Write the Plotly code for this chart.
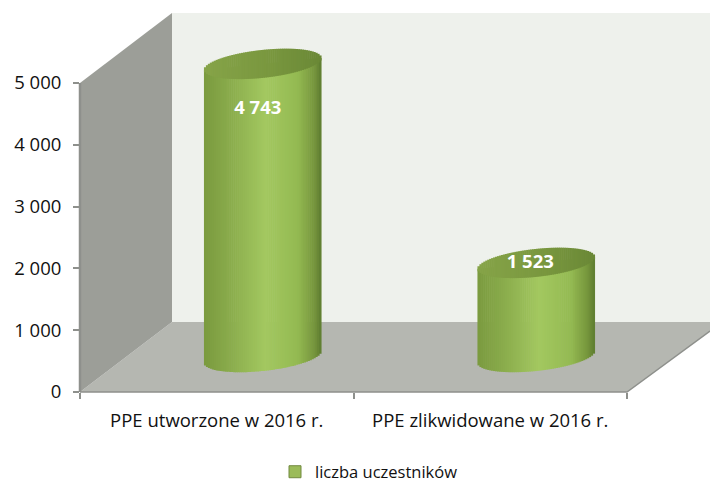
import math
import plotly.graph_objects as go

CATEGORIES = ["PPE utworzone w 2016 r.", "PPE zlikwidowane w 2016 r."]
VALUES = [4743, 1523]
Y_TICKS = [0, 1000, 2000, 3000, 4000, 5000]
SERIES_NAME = "liczba uczestników"

W, H = 710, 482
L, R, T, B = 80, 627, 13, 392
DX, DY = 92, 70            # depth of the 3-D box in pixels
PX_PER_UNIT_Y = 61.8 / 1000
PX_PER_CAT = (R - L) / 2
Y_MAX = (B - T) / PX_PER_UNIT_Y

CYL_SHIFT_X, CYL_LIFT_PX = 46, 35
CYL_HALF_W, CYL_HALF_H, CYL_TILT = 58.5, 14, 6
N = 60


def lerp(stops, t):
    for (a, ca), (b, cb) in zip(stops, stops[1:]):
        if t <= b:
            f = (t - a) / (b - a)
            return "rgb(%d,%d,%d)" % tuple(round(x + (y - x) * f) for x, y in zip(ca, cb))
    return "rgb(%d,%d,%d)" % stops[-1][1]


BODY = [(-1, (122, 154, 62)), (-0.55, (138, 172, 76)), (0.05, (163, 200, 96)),
        (0.6, (148, 186, 82)), (0.88, (118, 150, 60)), (1, (94, 124, 48))]
TOP = [(-1, (134, 164, 72)), (0.2, (120, 150, 62)), (1, (106, 136, 54))]

body = dict(x=[], base=[], y=[], w=[], o=[], c=[])
top = dict(x=[], base=[], y=[], w=[], o=[], c=[])
lift = CYL_LIFT_PX / PX_PER_UNIT_Y
strip_px = 2 * CYL_HALF_W / N
for idx, v in enumerate(VALUES):
    for i in range(N):
        u = -1 + (i + 0.5) * 2 / N
        chord = CYL_HALF_H * math.sqrt(1 - u * u) / PX_PER_UNIT_Y
        tilt = CYL_TILT * u / PX_PER_UNIT_Y
        width = (strip_px + 0.6) / PX_PER_CAT
        offs = (CYL_SHIFT_X + CYL_HALF_W * u - strip_px / 2 - 0.3) / PX_PER_CAT
        body["x"].append(idx); top["x"].append(idx)
        body["base"].append(lift + tilt - chord)
        body["y"].append(v + chord)
        top["base"].append(lift + v + tilt - chord)
        top["y"].append(2 * chord)
        for d, stops in ((body, BODY), (top, TOP)):
            d["w"].append(width); d["o"].append(offs); d["c"].append(lerp(stops, u))

fig = go.Figure()
for d in (body, top):
    fig.add_bar(x=d["x"], y=d["y"], base=d["base"], width=d["w"], offset=d["o"],
                marker=dict(color=d["c"], line=dict(width=0)),
                showlegend=False, hoverinfo="skip")

fig.add_bar(x=[0], y=[None], name=SERIES_NAME, showlegend=True, hoverinfo="skip",
            marker=dict(color="#9bbb59", line=dict(color="#71893f", width=1)))

fig.add_scatter(x=[i + s / PX_PER_CAT for i, s in enumerate((41, 40))],
                y=[VALUES[0] - 744 + lift, VALUES[1] + lift],
                mode="text", text=[f"{v:,}".replace(",", " ") for v in VALUES],
                textfont=dict(family="Open Sans", size=18.5, color="white", weight="bold"),
                showlegend=False, hoverinfo="skip")


def px(x):
    return (x - L) / (R - L)


def py(y):
    return (B - y) / (B - T)


def poly(points, fill, line=None, width=0, close=True):
    path = "M " + " L ".join(f"{px(a):.5f},{py(b):.5f}" for a, b in points) + (" Z" if close else "")
    return dict(type="path", xref="paper", yref="paper", path=path, layer="below",
                fillcolor=fill, line=dict(color=line or fill, width=width))


EDGE_Y = 331  # where the floor's right edge meets the picture's edge
shapes = [
    poly([(L + DX, T), (W, T), (W, B - DY), (L + DX, B - DY)], "#eef1ec"),
    poly([(L, B), (L + DX, B - DY), (W, B - DY), (W, EDGE_Y), (R, B)], "#b5b7b1"),
    poly([(L, B - 309), (L + DX, T), (L + DX, B - DY), (L, B)], "#9c9e98"),
    poly([(L, B), (R, B), (W, EDGE_Y)], "rgba(0,0,0,0)", "#8e908c", 1.5, close=False),
    poly([(L, B - 309), (L, B)], "rgba(0,0,0,0)", "#8e908c", 2.5, close=False),
]

fig.update_layout(
    width=W, height=H, barmode="overlay", shapes=shapes,
    margin=dict(l=L, r=W - R, t=T, b=H - B, autoexpand=False),
    paper_bgcolor="white", plot_bgcolor="rgba(0,0,0,0)",
    font=dict(family="Open Sans", color="#111111"),
    xaxis=dict(range=[-0.5, 1.5], tickmode="array", tickvals=[0, 1], ticktext=CATEGORIES,
               ticks="", showgrid=False, zeroline=False, showline=False, ticklabelstandoff=15,
               tickfont=dict(size=18.5, color="#111111"),
               minor=dict(ticks="outside", tick0=-0.5, dtick=1, ticklen=6, tickwidth=1.5,
                          tickcolor="#8e908c", showgrid=False)),
    yaxis=dict(range=[0, Y_MAX], tickmode="array", tickvals=Y_TICKS,
               ticktext=[f"{v:,}".replace(",", " ") for v in Y_TICKS],
               ticks="outside", ticklen=6, tickwidth=1.5, tickcolor="#8e908c",
               showgrid=False, zeroline=False, showline=False, ticklabelstandoff=8,
               tickfont=dict(size=18.5, color="#111111")),
    legend=dict(orientation="h", x=px(275), xanchor="left", xref="paper", y=py(472), yanchor="middle",
                yref="paper", font=dict(size=16.5, color="#111111"), bgcolor="rgba(0,0,0,0)",
                itemwidth=30),
)
fig.write_html("out.html", config={"displayModeBar": False},
               post_script="document.body.style.margin='0';")
